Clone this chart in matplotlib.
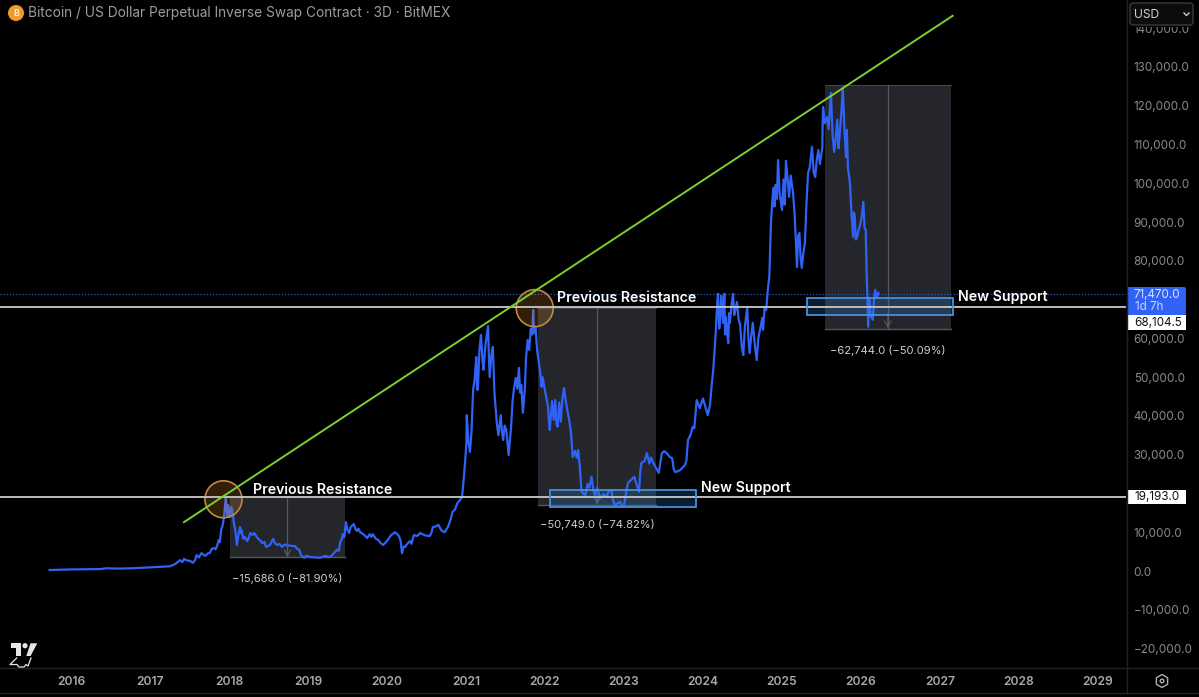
import matplotlib
matplotlib.use('Agg')
import matplotlib.pyplot as plt
from matplotlib.patches import Circle, Ellipse, FancyBboxPatch, Polygon, Rectangle, RegularPolygon

plt.rcParams['font.family'] = ['Inter', 'DejaVu Sans']

TITLE = 'Bitcoin / US Dollar Perpetual Inverse Swap Contract · 3D · BitMEX'

# (decimal year, price), one list per market cycle
cycle1 = [(2015.73, 260), (2016.0, 400), (2016.37, 500), (2016.45, 700), (2016.6, 620), (2016.8, 720),
          (2017.0, 950), (2017.1, 1050), (2017.25, 1200), (2017.32, 1800), (2017.38, 2800), (2017.41, 2300),
          (2017.43, 3100), (2017.47, 2700), (2017.51, 2600), (2017.54, 2100), (2017.57, 2800), (2017.59, 4100),
          (2017.62, 3500), (2017.65, 4600), (2017.68, 4200), (2017.70, 3900), (2017.73, 4500), (2017.76, 4700),
          (2017.78, 5700), (2017.81, 5900), (2017.83, 5600), (2017.85, 6500), (2017.87, 8000), (2017.885, 7400),
          (2017.90, 10600), (2017.92, 11800), (2017.94, 14500), (2017.96, 19100), (2017.97, 15700),
          (2017.98, 14200), (2017.99, 17000), (2018.01, 13900), (2018.03, 16500), (2018.05, 14500),
          (2018.065, 11800), (2018.08, 10600), (2018.10, 6700), (2018.12, 9500), (2018.14, 11300),
          (2018.15, 9800), (2018.16, 10500), (2018.18, 8300), (2018.20, 8800), (2018.23, 7700), (2018.25, 8600),
          (2018.27, 9800), (2018.30, 9300), (2018.32, 9800), (2018.35, 8800), (2018.37, 8300), (2018.40, 7800),
          (2018.42, 7200), (2018.45, 7500), (2018.47, 6200), (2018.50, 6500), (2018.52, 6700), (2018.54, 7600),
          (2018.56, 8300), (2018.58, 7200), (2018.61, 6700), (2018.64, 7000), (2018.67, 6200), (2018.70, 6800),
          (2018.72, 6700), (2018.78, 6500), (2018.84, 6400), (2018.86, 5700), (2018.89, 5500), (2018.91, 4100),
          (2018.95, 3400), (2018.98, 3900), (2019.03, 3600), (2019.09, 3500), (2019.15, 3400), (2019.22, 3900),
          (2019.28, 3600)]

cycle2 = [(2019.31, 4200), (2019.34, 4900), (2019.37, 5500), (2019.39, 5200), (2019.41, 7700), (2019.43, 8200),
          (2019.44, 9500), (2019.46, 8800), (2019.48, 12600), (2019.50, 10600), (2019.52, 9800), (2019.54, 11300),
          (2019.58, 12100), (2019.60, 10900), (2019.62, 10300), (2019.64, 10900), (2019.66, 10000), (2019.70, 9500),
          (2019.75, 8500), (2019.78, 9500), (2019.80, 8800), (2019.82, 9500), (2019.86, 8300), (2019.89, 8000),
          (2019.92, 7200), (2019.95, 6700), (2019.98, 7300), (2020.01, 8000), (2020.05, 9200), (2020.10, 10000),
          (2020.13, 9500), (2020.15, 9000), (2020.17, 8000), (2020.19, 4600), (2020.21, 6300), (2020.23, 6200),
          (2020.26, 7100), (2020.29, 7700), (2020.31, 7000), (2020.34, 9300), (2020.38, 9000), (2020.42, 9800),
          (2020.48, 9200), (2020.54, 9000), (2020.56, 9700), (2020.58, 11300), (2020.62, 11500), (2020.65, 11900),
          (2020.69, 10400), (2020.73, 10000), (2020.77, 11300), (2020.80, 12900), (2020.83, 15300), (2020.86, 15800),
          (2020.89, 17500), (2020.92, 18200), (2020.95, 19100), (2020.97, 23500), (2020.99, 28600), (2021.005, 33000),
          (2021.01, 40200), (2021.03, 33500), (2021.05, 30700), (2021.07, 36000), (2021.09, 46700), (2021.11, 49500),
          (2021.13, 55200), (2021.14, 47000), (2021.15, 46700), (2021.17, 57000), (2021.19, 60900), (2021.21, 54000),
          (2021.22, 51900), (2021.25, 59000), (2021.28, 63200), (2021.29, 55000), (2021.30, 50000), (2021.32, 55500),
          (2021.34, 57800), (2021.36, 46000), (2021.39, 38200), (2021.41, 35000), (2021.44, 40200), (2021.455, 36000),
          (2021.47, 33800), (2021.49, 37500), (2021.51, 36400), (2021.525, 33000), (2021.54, 29900), (2021.57, 37000),
          (2021.59, 44000), (2021.61, 47500), (2021.63, 49800), (2021.65, 47000), (2021.67, 52400), (2021.685, 46000),
          (2021.70, 48000), (2021.72, 40800), (2021.745, 47000), (2021.76, 55000), (2021.78, 59600), (2021.80, 57000),
          (2021.82, 62500), (2021.84, 61000), (2021.85, 67300), (2021.86, 61400), (2021.88, 63000), (2021.90, 57000),
          (2021.92, 54000), (2021.94, 51100), (2021.955, 47500), (2021.97, 50000), (2022.00, 46500)]

cycle3 = [(2022.04, 42300), (2022.05, 38500), (2022.06, 36400), (2022.09, 43800), (2022.11, 39000), (2022.13, 44100),
          (2022.145, 38000), (2022.16, 37200), (2022.18, 43500), (2022.20, 38500), (2022.22, 44500), (2022.24, 47200),
          (2022.265, 43500), (2022.29, 40800), (2022.31, 38500), (2022.33, 35500), (2022.35, 29400), (2022.38, 31000),
          (2022.40, 29200), (2022.42, 31200), (2022.44, 27000), (2022.46, 20900), (2022.48, 20000), (2022.51, 19600),
          (2022.54, 22500), (2022.56, 21500), (2022.59, 24300), (2022.61, 21000), (2022.63, 19600), (2022.66, 21500),
          (2022.70, 18800), (2022.74, 19800), (2022.78, 19100), (2022.81, 20800), (2022.84, 20900), (2022.865, 18000),
          (2022.89, 16800), (2022.92, 17500), (2022.95, 17800), (2022.98, 16700), (2023.00, 16800), (2023.03, 20800),
          (2023.05, 22700), (2023.09, 23500), (2023.13, 24300), (2023.16, 22300), (2023.19, 20400), (2023.205, 25500),
          (2023.22, 27900), (2023.26, 28300), (2023.29, 30400), (2023.32, 27700), (2023.34, 29300), (2023.37, 27900),
          (2023.40, 26800), (2023.44, 25300), (2023.46, 28000), (2023.48, 30400), (2023.51, 30900), (2023.54, 30400),
          (2023.58, 29400), (2023.61, 29100), (2023.63, 26200), (2023.65, 25500), (2023.71, 26000), (2023.77, 27300),
          (2023.79, 28500), (2023.81, 33800), (2023.84, 35000), (2023.87, 37200), (2023.89, 36800), (2023.92, 44100),
          (2023.96, 42000), (2024.00, 44500), (2024.03, 42300), (2024.06, 40200), (2024.09, 43000), (2024.11, 48000),
          (2024.13, 51900), (2024.16, 61000), (2024.18, 69100), (2024.19, 71500), (2024.205, 62500), (2024.22, 65500),
          (2024.23, 71000), (2024.24, 69400), (2024.255, 64000), (2024.27, 71500), (2024.28, 61000), (2024.29, 65500),
          (2024.305, 61500), (2024.32, 58800), (2024.33, 66500), (2024.34, 64000), (2024.36, 68500), (2024.38, 71500),
          (2024.395, 66000), (2024.41, 67300), (2024.43, 69400), (2024.45, 65000), (2024.47, 63500), (2024.49, 58000),
          (2024.51, 55700), (2024.53, 63000), (2024.56, 68100), (2024.575, 60000), (2024.59, 56200), (2024.61, 60500),
          (2024.63, 64000), (2024.655, 58500), (2024.68, 54400), (2024.70, 60000), (2024.73, 63000), (2024.75, 65300),
          (2024.76, 62200), (2024.78, 68000), (2024.80, 67300), (2024.82, 72500)]

cycle4 = [(2024.84, 76000), (2024.85, 82800), (2024.86, 89500), (2024.87, 93100), (2024.89, 98800), (2024.905, 94000),
          (2024.92, 99600), (2024.935, 96000), (2024.95, 106000), (2024.97, 97500), (2025.00, 93100), (2025.02, 101000),
          (2025.035, 94500), (2025.05, 105800), (2025.07, 101500), (2025.09, 96500), (2025.11, 102000), (2025.14, 97500),
          (2025.16, 92000), (2025.19, 78400), (2025.205, 86500), (2025.22, 87200), (2025.235, 81000), (2025.25, 78200),
          (2025.27, 82000), (2025.29, 84600), (2025.31, 95000), (2025.33, 102700), (2025.35, 104000), (2025.38, 109400),
          (2025.40, 103000), (2025.42, 101600), (2025.44, 106000), (2025.46, 108600), (2025.48, 105000), (2025.51, 109100),
          (2025.515, 116000), (2025.52, 119700), (2025.54, 115500), (2025.57, 117100), (2025.59, 114000), (2025.62, 123300),
          (2025.64, 112500), (2025.66, 108100), (2025.68, 111500), (2025.70, 116400), (2025.715, 109000), (2025.73, 112500),
          (2025.75, 118000), (2025.77, 124600), (2025.79, 114000), (2025.81, 106800), (2025.82, 113800), (2025.835, 104000),
          (2025.86, 100100), (2025.88, 92000), (2025.90, 86200), (2025.91, 92500), (2025.92, 91800), (2025.935, 85500),
          (2025.95, 86200), (2025.97, 88000), (2025.99, 89300), (2026.01, 91500), (2026.03, 95200), (2026.045, 88500),
          (2026.06, 88000), (2026.07, 78000), (2026.085, 68000), (2026.09, 63000), (2026.10, 70500), (2026.11, 69900),
          (2026.125, 65500), (2026.15, 64800), (2026.165, 70000), (2026.18, 72500), (2026.20, 70500), (2026.22, 71700)]

year_ticks = list(range(2016, 2030))
# 20,000 and 70,000 sit behind the price tags on the scale
price_ticks = [-20000, -10000, 0, 10000, 30000, 40000, 50000, 60000, 80000, 90000,
               100000, 110000, 120000, 130000, 140000]

last_price = 71470.0
support_levels = [19193.0, 68104.5]

trend_years = [2017.43, 2027.16]
trend_prices = [12600, 143200]

# drawdown boxes: start, end, high, low, label
drawdowns = [
    (2018.01, 2019.47, 19193, 3507, '−15,686.0 (−81.90%)'),
    (2021.91, 2023.41, 67828, 17079, '−50,749.0 (−74.82%)'),
    (2025.54, 2027.14, 125263, 62519, '−62,744.0 (−50.09%)'),
]
support_boxes = [
    (2022.06, 2023.91, 16500, 20900),
    (2025.32, 2027.16, 66000, 70400),
]
peak_circles = [(2017.93, 18500), (2021.87, 67800)]


def price_label(value, pos=None):
    text = f'{abs(value):,.1f}'
    return '−' + text if value < 0 else text


def draw_price_chart(ax):
    x_per_year = 79.0
    px_per_price = 38.77 / 10000
    for start, end, high, low, label in drawdowns:
        mid = (start + end) / 2
        ax.add_patch(Rectangle((start, low), end - start, high - low, fc='#24262c', ec='none', zorder=1))
        ax.plot([start, end], [low, low], color='#55575c', lw=1, zorder=1.5)
        ax.plot([start, end], [high, high], color='#44464b', lw=0.8, zorder=1.5)
        ax.plot([mid, mid], [low, high], color='#55575b', lw=0.9, zorder=1.6)
        ax.annotate('', xy=(mid, low), xytext=(mid, low + 4000), zorder=1.6,
                    arrowprops=dict(arrowstyle='->', color='#55575b', lw=0.9, shrinkA=0, shrinkB=0,
                                    mutation_scale=11))

    points = cycle1 + cycle2 + cycle3 + cycle4
    years = [p[0] for p in points]
    prices = [p[1] for p in points]
    ax.plot(years, prices, color='#2f62f5', lw=1.6, solid_joinstyle='round', zorder=3)

    for start, end, low, high in support_boxes:
        ax.add_patch(Rectangle((start, low), end - start, high - low, fc='#2a8de0', alpha=0.22,
                               ec='none', zorder=3.5))
        ax.add_patch(Rectangle((start, low), end - start, high - low, fc='none', ec='#4a8fdc',
                               lw=1.3, zorder=4.5))

    for year, price in peak_circles:
        ax.add_patch(Ellipse((year, price), 37 / x_per_year, 37 / px_per_price, fc='#e8912d', alpha=0.22,
                             ec='none', zorder=3.2))
        ax.add_patch(Ellipse((year, price), 37 / x_per_year, 37 / px_per_price, fc='none', ec='#c08a45',
                             lw=1.2, zorder=3.3))

    for level in support_levels:
        ax.axhline(level, color='#bdbdbd', lw=1.4, zorder=4)
    ax.axhline(last_price, color='#2f55c8', lw=0.9, ls=(0, (1, 1.5)), zorder=2)
    ax.plot(trend_years, trend_prices, color='#78d22f', lw=1.4, zorder=5)


def style_axes(ax, x_limits, y_limits):
    ax.set_facecolor('black')
    ax.set_xlim(x_limits)
    ax.set_ylim(y_limits)
    for side in ax.spines:
        ax.spines[side].set_visible(False)
    ax.set_xticks(year_ticks)
    ax.set_yticks(price_ticks)
    ax.yaxis.tick_right()
    ax.set_yticklabels([price_label(p) for p in price_ticks])
    ax.tick_params(axis='y', length=0, pad=5.5, labelcolor='#8a8a8a', labelsize=8.4)
    ax.tick_params(axis='x', length=0, pad=6.2, labelcolor='#a8a8a8', labelsize=8.7)
    for label in ax.get_xticklabels():
        label.set_fontweight('semibold')


def draw_logo(ui):
    ui.add_patch(Polygon([(10.7, 643), (20.7, 643), (20.7, 656), (16, 656), (16, 648), (10.7, 648)],
                         fc='#e6e6e6', ec='none'))
    ui.add_patch(Circle((25, 645.7), 2.6, fc='#e6e6e6', ec='none'))
    ui.add_patch(Polygon([(37.3, 643.3), (30.5, 643.3), (26.3, 656), (30.6, 656)], fc='#e6e6e6', ec='none'))
    ui.plot([16.7, 10, 17, 19, 24, 26, 28, 31], [658, 664.5, 664.5, 667, 667, 664.5, 666, 658],
            color='#e6e6e6', lw=0.9)


def draw_ui(ui):
    # right scale hides anything above the first label
    ui.add_patch(Rectangle((1127, 0), 72, 27, fc='black', ec='none'))
    ui.plot([1126.5, 1126.5], [0, 693], color='#232323', lw=1)
    ui.plot([0, 1199], [668, 668], color='#232323', lw=1)
    ui.plot([0, 1199], [693, 693], color='#232323', lw=1)

    ui.add_patch(FancyBboxPatch((1130, 3), 63, 22, boxstyle='round,pad=0,rounding_size=3',
                                fc='#0c0c0c', ec='#3a3a3a', lw=1))
    ui.text(1134, 14.5, 'USD', color='#d0d0d0', fontsize=8.7, va='center')
    ui.plot([1184, 1186.5, 1189], [13, 15.5, 13], color='#c8c8c8', lw=1)

    ui.add_patch(Circle((16, 13), 8, fc='#ef9a2f', ec='none'))
    ui.text(16, 13.3, 'B', color='#fde7c8', fontsize=6.5, fontweight='bold', ha='center', va='center')
    ui.text(28, 13.5, TITLE, color='#9c9c9c', fontsize=9.85, va='center')

    # price tags
    ui.add_patch(FancyBboxPatch((1127, 287), 59, 28, boxstyle='round,pad=0,rounding_size=2',
                                fc='#2f62f5', ec='none'))
    ui.text(1134, 294.5, price_label(last_price), color='#dbe3ff', fontsize=8.4, va='center')
    ui.text(1135, 307, '1d 7h', color='#c8d4ff', fontsize=8.4, va='center')
    for level, top, bottom in [(support_levels[1], 315, 330), (support_levels[0], 490, 504)]:
        ui.add_patch(Rectangle((1127, top), 59, bottom - top, fc='white', ec='none'))
        ui.text(1134, (top + bottom) / 2 + 0.5, price_label(level), color='#111111', fontsize=8.4, va='center')

    for x, y, text in [(253, 490, 'Previous Resistance'), (557, 298, 'Previous Resistance'),
                       (701, 488, 'New Support'), (958, 297, 'New Support')]:
        ui.text(x, y, text, color='white', fontsize=10.2, fontweight='semibold', va='center', zorder=6)

    for x, y, draw in zip([287.5, 597, 888], [578, 525, 350], drawdowns):
        ui.text(x, y, draw[4], color='#cfcfcf', fontsize=8, ha='center', va='center')

    ui.add_patch(RegularPolygon((1162, 681), 6, radius=6.5, fc='none', ec='#b0b0b0', lw=1))
    ui.add_patch(Circle((1162, 681), 1.8, fc='none', ec='#b0b0b0', lw=1))
    draw_logo(ui)


def main():
    fig = plt.figure(figsize=(11.99, 6.97), dpi=100, facecolor='black')
    ax = fig.add_axes([0, 30 / 697, 1126 / 1199, 667 / 697])
    x_limits = (2016 - 71 / 79, 2016 + (1126 - 71) / 79)
    y_limits = ((571 - 667) * 10000 / 38.77, 571 * 10000 / 38.77)
    style_axes(ax, x_limits, y_limits)
    draw_price_chart(ax)

    ui = fig.add_axes([0, 0, 1, 1], zorder=5)
    ui.set_xlim(0, 1199)
    ui.set_ylim(697, 0)
    ui.axis('off')
    draw_ui(ui)

    fig.savefig('out.png', dpi=100, facecolor='black')


if __name__ == '__main__':
    main()
